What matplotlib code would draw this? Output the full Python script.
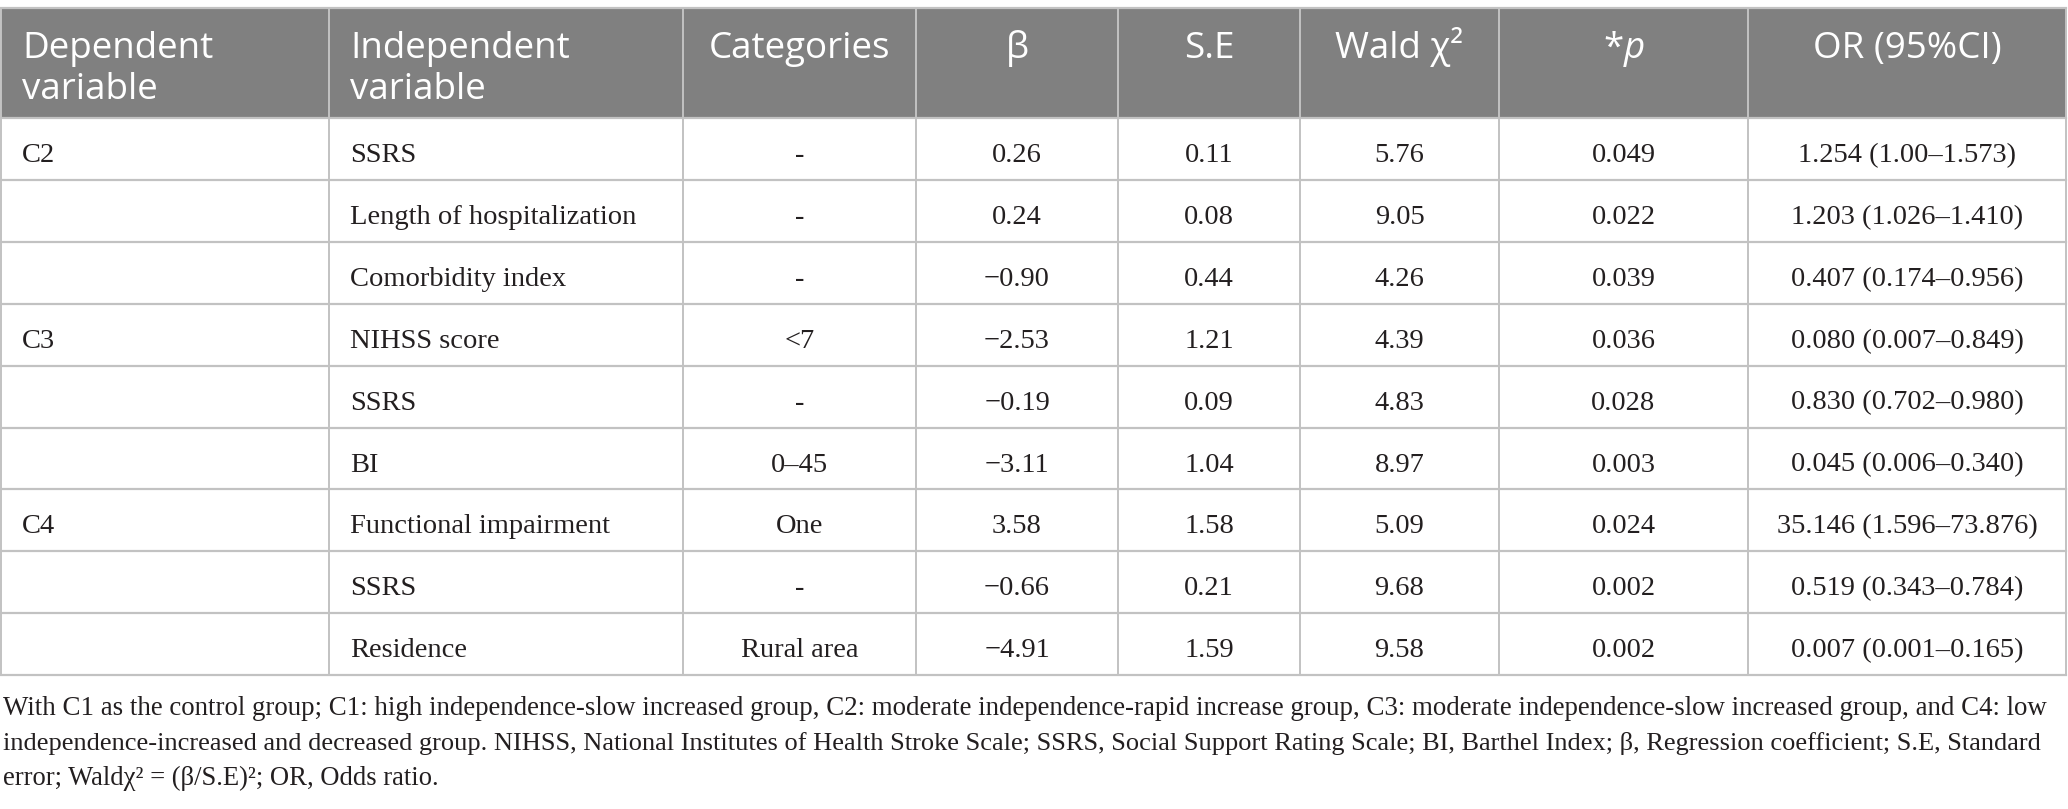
import matplotlib.pyplot as plt
from matplotlib.patches import Rectangle

# --- table content ---
dep_var = ["C2", "", "", "C3", "", "", "C4", "", ""]
indep_var = ["SSRS", "Length of hospitalization", "Comorbidity index",
             "NIHSS score", "SSRS", "BI", "Functional impairment", "SSRS", "Residence"]
categories = ["-", "-", "-", "<7", "-", "0–45", "One", "-", "Rural area"]
beta = [0.26, 0.24, -0.90, -2.53, -0.19, -3.11, 3.58, -0.66, -4.91]
se = [0.11, 0.08, 0.44, 1.21, 0.09, 1.04, 1.58, 0.21, 1.59]
wald = [5.76, 9.05, 4.26, 4.39, 4.83, 8.97, 5.09, 9.68, 9.58]
p_vals = [0.049, 0.022, 0.039, 0.036, 0.028, 0.003, 0.024, 0.002, 0.002]
or_ci = ["1.254 (1.00–1.573)", "1.203 (1.026–1.410)", "0.407 (0.174–0.956)",
         "0.080 (0.007–0.849)", "0.830 (0.702–0.980)", "0.045 (0.006–0.340)",
         "35.146 (1.596–73.876)", "0.519 (0.343–0.784)", "0.007 (0.001–0.165)"]

headers = [["Dependent", "variable"], ["Independent", "variable"], ["Categories"],
           ["β"], ["S.E"], ["Wald χ²"], [r"*$\mathit{p}$"], ["OR (95%CI)"]]

footnote = [
    "With C1 as the control group; C1: high independence-slow increased group, C2: moderate "
    "independence-rapid increase group, C3: moderate independence-slow increased group, and C4: low",
    "independence-increased and decreased group. NIHSS, National Institutes of Health Stroke Scale; "
    "SSRS, Social Support Rating Scale; BI, Barthel Index; β, Regression coefficient; S.E, Standard",
    "error; Waldχ² = (β/S.E)²; OR, Odds ratio.",
]


def fmt(v, nd):
    s = f"{abs(v):.{nd}f}"
    return ("−" + s) if v < 0 else s


rows = []
for i in range(len(dep_var)):
    rows.append([dep_var[i], indep_var[i], categories[i], fmt(beta[i], 2),
                 fmt(se[i], 2), fmt(wald[i], 2), fmt(p_vals[i], 3), or_ci[i]])

# --- layout (pixels) ---
col_edges = [1, 329, 683, 916, 1118, 1300, 1499, 1748, 2066]
table_top = 8
header_bottom = 118
row_h = 61.9
grid_col = "#c2c2c2"
head_col = "#808080"
serif = ["Liberation Serif", "DejaVu Serif"]
sans = ["Open Sans", "DejaVu Sans"]

plt.rcParams["mathtext.fontset"] = "custom"
plt.rcParams["mathtext.rm"] = "Open Sans"
plt.rcParams["mathtext.it"] = "Open Sans:italic"

fig = plt.figure(figsize=(20.68, 8.09), dpi=100)
ax = fig.add_axes([0, 0, 1, 1])
ax.set_xlim(0, 2068)
ax.set_ylim(809, 0)
ax.axis("off")

# header band
ax.add_patch(Rectangle((col_edges[0], table_top), col_edges[-1] - col_edges[0],
                       header_bottom - table_top, color=head_col, lw=0, zorder=1))

n_rows = len(rows)
table_bottom = header_bottom + n_rows * row_h

# grid
ax.plot([col_edges[0], col_edges[-1]], [table_top, table_top], color=grid_col, lw=1.6, zorder=2)
for r in range(n_rows + 1):
    y = header_bottom + r * row_h
    ax.plot([col_edges[0], col_edges[-1]], [y, y], color=grid_col, lw=1.6, zorder=2)
for x in col_edges:
    ax.plot([x, x], [table_top, table_bottom], color=grid_col, lw=1.4, zorder=2)

# header text
for c, lines in enumerate(headers):
    left = c < 2
    x = col_edges[c] + 21 if left else (col_edges[c] + col_edges[c + 1]) / 2
    for k, line in enumerate(lines):
        ax.text(x, 58 + k * 41, line, ha="left" if left else "center", va="baseline",
                color="white", fontsize=26.5, family=sans, zorder=3)

# body text
for r, row in enumerate(rows):
    yb = header_bottom + r * row_h + 44
    for c, val in enumerate(row):
        if not val:
            continue
        left = c < 2
        x = col_edges[c] + 21 if left else (col_edges[c] + col_edges[c + 1]) / 2
        ax.text(x, yb, val, ha="left" if left else "center", va="baseline",
                color="#231f20", fontsize=20.5, family=serif, zorder=3)

# footnote, fitted to the line widths of the reference
fn_targets = [2052 - 3, 2039 - 3, None]
fn_texts = []
for k, line in enumerate(footnote):
    t = ax.text(3, 715 + k * 35, line, ha="left", va="baseline", color="#231f20",
                fontsize=19.5, family=serif, zorder=3)
    fn_texts.append(t)

fig.canvas.draw()
renderer = fig.canvas.get_renderer()
sizes = []
for t, target in zip(fn_texts, fn_targets):
    if target is None:
        continue
    w = t.get_window_extent(renderer).width
    fs = t.get_fontsize() * target / w
    t.set_fontsize(fs)
    sizes.append(fs)
fn_texts[-1].set_fontsize(sum(sizes) / len(sizes))

fig.savefig("out.png", dpi=100)
plt.close(fig)
